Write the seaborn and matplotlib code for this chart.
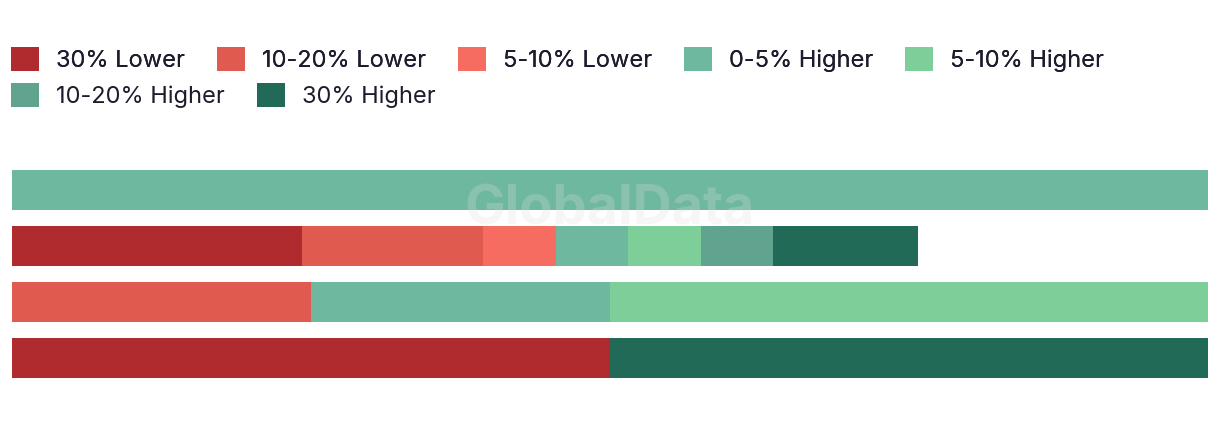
import matplotlib
matplotlib.use("Agg")
import matplotlib.pyplot as plt
from matplotlib.patches import Patch
import seaborn as sns
import pandas as pd
import numpy as np

sns.set_theme(style="white")
plt.rcParams['font.family'] = ['Inter', 'DejaVu Sans']

categories = ["Row 1", "Row 2", "Row 3", "Row 4"]
series = ["30% Lower", "10-20% Lower", "5-10% Lower", "0-5% Higher",
          "5-10% Higher", "10-20% Higher", "30% Higher"]
colors = ["#B02B2E", "#E05A4F", "#F66C60", "#6FB8A0", "#7ECE9A", "#60A48F", "#216A57"]

v_30_lower = [0, 24.24, 0, 50]
v_10_20_lower = [0, 15.15, 25, 0]
v_5_10_lower = [0, 6.06, 0, 0]
v_0_5_higher = [100, 6.06, 25, 0]
v_5_10_higher = [0, 6.06, 50, 0]
v_10_20_higher = [0, 6.06, 0, 0]
v_30_higher = [0, 12.12, 0, 50]

values = [v_30_lower, v_10_20_lower, v_5_10_lower, v_0_5_higher,
          v_5_10_higher, v_10_20_higher, v_30_higher]

W, H = 1220, 422
fig = plt.figure(figsize=(W / 100, H / 100), dpi=100)
ax = fig.add_axes([12 / W, (H - 386) / H, 1196 / W, 224 / H])

cum = np.cumsum(np.array(values, dtype=float), axis=0)
for i in range(len(series) - 1, -1, -1):
    df = pd.DataFrame({"cat": categories, "val": cum[i]})
    sns.barplot(data=df, y="cat", x="val", orient="h", color=colors[i],
                saturation=1, width=40 / 56, ax=ax, linewidth=0)

ax.set_xlim(0, 100)
ax.set_ylim(3.5, -0.5)
ax.axis("off")

txt_color = "#1c1c2e"
fs = 17
fs_px = fs * 100 / 72
common = dict(loc="upper left", frameon=False, fontsize=fs,
              handlelength=28 / fs_px, handleheight=28 / fs_px,
              handletextpad=17 / fs_px, columnspacing=32 / fs_px,
              borderpad=0, borderaxespad=0, labelcolor=txt_color)
handles = [Patch(facecolor=c, edgecolor="none") for c in colors]
leg1 = fig.legend(handles[:5], series[:5], bbox_to_anchor=(11 / W, 1 - 47 / H),
                  ncol=5, **common)
leg2 = fig.legend(handles[5:], series[5:], bbox_to_anchor=(11 / W, 1 - 83 / H),
                  ncol=2, **common)
fig.add_artist(leg1)

fig.text(610 / W, 1 - 210 / H, "GlobalData", ha="center", va="center",
         fontsize=39, fontweight="bold", color="#dddddd", alpha=0.25)

fig.savefig("out.png", dpi=100, facecolor="white")
